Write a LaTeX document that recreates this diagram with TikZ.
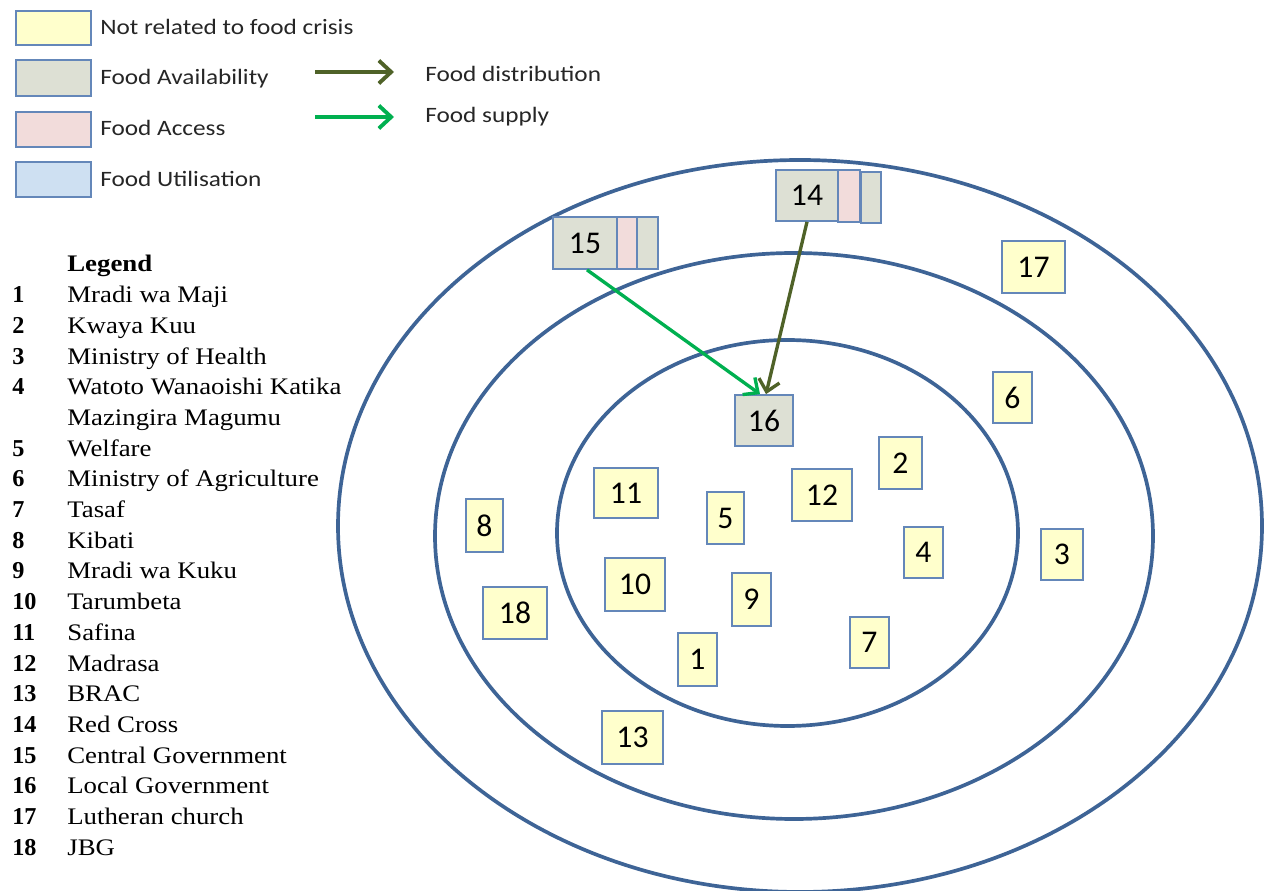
\documentclass[tikz,border=0pt]{standalone}
\usepackage{fontspec}
\setmainfont{Liberation Serif}
\newfontfamily\legserif[FakeStretch=1.13]{Liberation Serif}
\newfontfamily\calib{Carlito}
\newfontfamily\calibwide[FakeStretch=1.15]{Carlito}
\usetikzlibrary{arrows.meta}

\definecolor{ringblue}{RGB}{62,100,150}
\definecolor{boxedge}{RGB}{100,135,185}
\definecolor{notrel}{RGB}{255,255,204}
\definecolor{avail}{RGB}{221,224,212}
\definecolor{access}{RGB}{242,220,219}
\definecolor{util}{RGB}{206,224,242}
\definecolor{distcol}{RGB}{79,98,40}
\definecolor{supcol}{RGB}{0,176,80}

% a box given by its corner pixels: name, x1, y1, x2, y2, label, fill
\newcommand\cellbox[7]{%
  \node[cell,fill=#7,minimum width={(#4-#2)*0.02cm},minimum height={(#5-#3)*0.02cm}]
    (#1) at ({(#2+#4)/2},{(#3+#5)/2}) {#6};}

\begin{document}
\begin{tikzpicture}[x=0.02cm,y=-0.02cm,
  ring/.style={draw=ringblue,line width=2.1pt},
  cell/.style={draw=boxedge,line width=1pt,inner sep=0pt,
    font=\calib\fontsize{18}{18}\selectfont},
  keytext/.style={anchor=base west,inner sep=0pt,
    font=\calibwide\fontsize{12.5}{13}\selectfont,text=black!85},
  legnum/.style={anchor=base west,inner sep=0pt,
    font=\bfseries\fontsize{13.8}{14}\selectfont},
  leghd/.style={anchor=base west,inner sep=0pt,
    font=\legserif\bfseries\fontsize{13.5}{14}\selectfont},
  legtxt/.style={anchor=base west,inner sep=0pt,
    font=\legserif\fontsize{13.5}{14}\selectfont},
  keyarrow/.style={line width=2.2pt,
    -{Straight Barb[length=7pt,width=13pt]}},
  distarrow/.style={draw=distcol,line width=1.9pt,
    -{Straight Barb[length=6.5pt,width=12pt]}},
  suparrow/.style={draw=supcol,line width=1.9pt,
    -{Straight Barb[length=6.5pt,width=12pt]}}]

\useasboundingbox (0,0) rectangle (1268,891);

% concentric rings
\draw[ring] (787.5,533) ellipse [x radius=230.5, y radius=193];
\draw[ring] (794,536) ellipse [x radius=359, y radius=283];
\draw[ring] (800,526) ellipse [x radius=462, y radius=366];

% colour key
\cellbox{k1}{16}{11}{91}{45}{}{notrel}
\cellbox{k2}{16}{60}{91}{96}{}{avail}
\cellbox{k3}{16}{112}{91}{147}{}{access}
\cellbox{k4}{16}{162}{91}{197}{}{util}
\node[keytext] (k1t) at (100,35) {Not related to food crisis};
\node[keytext] (k2t) at (100,85) {Food Availability};
\node[keytext] (k3t) at (100,136) {Food Access};
\node[keytext] (k4t) at (100,187) {Food Utilisation};

% arrow key
\coordinate (d1) at (315,72);
\coordinate (d2) at (394,72);
\coordinate (s1) at (315,117);
\coordinate (s2) at (394,117);
\draw[distarrow,keyarrow] (d1) -- (d2);
\draw[suparrow,keyarrow] (s1) -- (s2);
\node[keytext] (dt) at (425,82) {Food distribution};
\node[keytext] (st) at (425,123) {Food supply};

% numbered legend
\node[leghd] (leghead) at (67,272) {Legend};
\foreach \n/\t/\r in {1/Mradi wa Maji/1, 2/Kwaya Kuu/2, 3/Ministry of Health/3,
    4/Watoto Wanaoishi Katika/4, 5/Welfare/6, 6/Ministry of Agriculture/7,
    7/Tasaf/8, 8/Kibati/9, 9/Mradi wa Kuku/10, 10/Tarumbeta/11, 11/Safina/12,
    12/Madrasa/13, 13/BRAC/14, 14/Red Cross/15, 15/Central Government/16,
    16/Local Government/17, 17/Lutheran church/18, 18/JBG/19}{
  \node[legnum] (ln\n) at (12,{272+30.7*\r}) {\n};
  \node[legtxt] (lt\n) at (67,{272+30.7*\r}) {\t};
}
\node[legtxt] (lt4b) at (67,{272+30.7*5}) {Mazingira Magumu};

% organisations
\cellbox{n15}{553}{217}{617}{269}{15}{avail}
\cellbox{n15b}{617}{217}{637}{269}{}{access}
\cellbox{n15c}{637}{217}{658}{269}{}{avail}
\cellbox{n14}{776}{170}{838}{221}{14}{avail}
\cellbox{n14b}{838}{170}{860}{222}{}{access}
\cellbox{n14c}{861}{172}{881}{223}{}{avail}
\cellbox{n16}{735}{395}{793}{446}{16}{avail}
\cellbox{n17}{1002}{241}{1065}{293}{17}{notrel}
\cellbox{n6}{993}{372}{1032}{423}{6}{notrel}
\cellbox{n2}{879}{437}{922}{489}{2}{notrel}
\cellbox{n11}{594}{468}{658}{518}{11}{notrel}
\cellbox{n12}{792}{469}{852}{521}{12}{notrel}
\cellbox{n5}{707}{492}{744}{544}{5}{notrel}
\cellbox{n8}{466}{499}{503}{552}{8}{notrel}
\cellbox{n4}{904}{527}{943}{578}{4}{notrel}
\cellbox{n3}{1041}{529}{1083}{580}{3}{notrel}
\cellbox{n10}{605}{558}{665}{611}{10}{notrel}
\cellbox{n9}{732}{573}{771}{626}{9}{notrel}
\cellbox{n18}{483}{587}{547}{639}{18}{notrel}
\cellbox{n7}{850}{617}{889}{668}{7}{notrel}
\cellbox{n1}{678}{633}{717}{686}{1}{notrel}
\cellbox{n13}{602}{711}{663}{764}{13}{notrel}

% flows into the local government
\draw[suparrow] ([xshift=0.04cm]n15.south) -- ([xshift=-0.08cm]n16.north);
\draw[distarrow] (n14.south) -- ([xshift=0.04cm]n16.north);
\end{tikzpicture}
\end{document}
